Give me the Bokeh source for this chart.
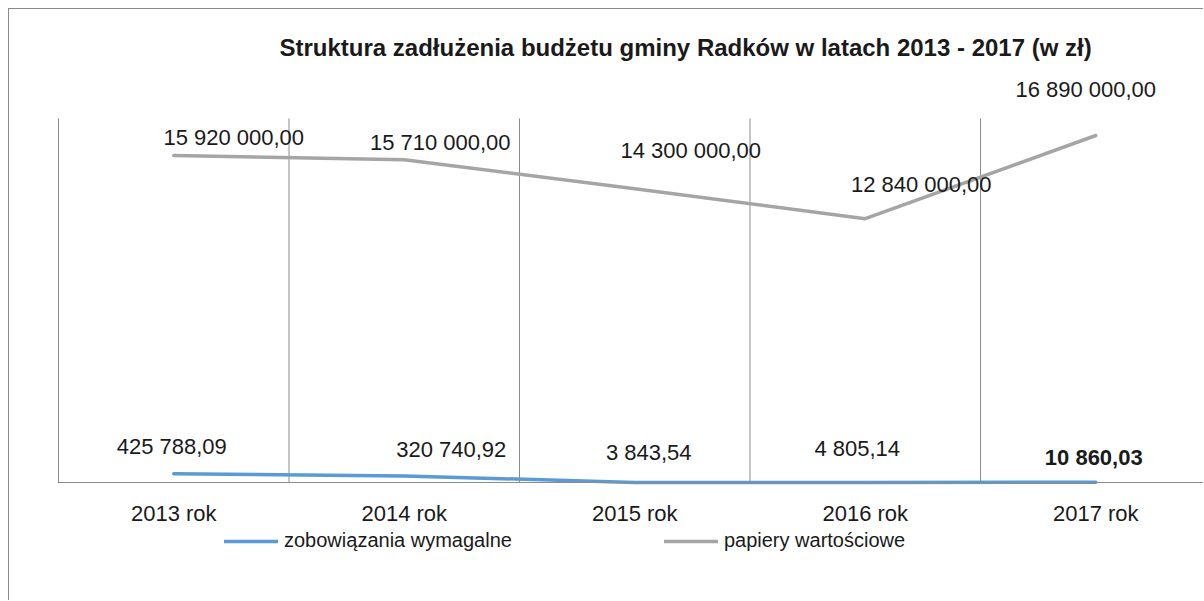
from bokeh.plotting import figure
from bokeh.models import (ColumnDataSource, LabelSet, Legend, LegendItem,
                          FixedTicker, Range1d)
from bokeh.core.properties import value
from bokeh.embed import file_html
from bokeh.resources import INLINE

# ---------------- data ----------------
years = ["2013 rok", "2014 rok", "2015 rok", "2016 rok", "2017 rok"]
zobowiazania = [425788.09, 320740.92, 3843.54, 4805.14, 10860.03]
papiery = [15920000.00, 15710000.00, 14300000.00, 12840000.00, 16890000.00]
series_names = ["zobowiązania wymagalne", "papiery wartościowe"]
title_text = "Struktura zadłużenia budżetu gminy Radków w latach 2013 - 2017 (w zł)"
y_axis_max = 17.72e6

# ---------------- label placement (styles) ----------------
zob_dx = [-2, 47, 14, -8, -2]
zob_dy = [27, 26, 30, 34, 25]
zob_style = ["normal", "normal", "normal", "normal", "bold"]
pap_dx = [60, 36, 56, 56, -10]
pap_dy = [18, 17, 38, 34, 46]

BLUE = "#5B9BD5"
GRAY = "#A5A5A5"
GRID = "#8C8C8C"
TXT = "#1a1a1a"
FONT = "Liberation Sans"

PX_PER_CAT = 230.5
PX_PER_UNIT = 20.545e-6
FRAME_W = 1147
FRAME_H = 532
ZERO_FROM_BOTTOM = 119


def fmt(v):
    return f"{v:,.2f}".replace(",", " ").replace(".", ",")


xs = list(range(len(years)))
x0 = -0.5 - 1 / PX_PER_CAT
y0 = -ZERO_FROM_BOTTOM / PX_PER_UNIT

p = figure(width=1195, height=592, output_backend="svg", toolbar_location=None,
           x_range=Range1d(x0, x0 + FRAME_W / PX_PER_CAT),
           y_range=Range1d(y0, y0 + FRAME_H / PX_PER_UNIT),
           min_border_left=48, min_border_right=0,
           min_border_top=60, min_border_bottom=0)
p.outline_line_color = None
p.styles = {"margin-left": "8px", "margin-top": "8px",
            "border-left": "1px solid #8a8a8a", "border-top": "1px solid #8a8a8a"}

# title
p.title.text = title_text
p.title.text_font = FONT
p.title.text_font_size = "24px"
p.title.text_font_style = "bold"
p.title.text_color = TXT
p.title.align = "left"
p.title.offset = 222
p.title.standoff = 18

# axes
p.yaxis.visible = False
p.ygrid.visible = False
p.xgrid.visible = False
p.xaxis.fixed_location = 0
p.xaxis.ticker = FixedTicker(ticks=xs)
p.xaxis.major_label_overrides = {i: y for i, y in zip(xs, years)}
p.xaxis.major_tick_line_color = None
p.xaxis.minor_tick_line_color = None
p.xaxis.axis_line_color = GRID
p.xaxis.major_label_text_font = FONT
p.xaxis.major_label_text_font_size = "22px"
p.xaxis.major_label_text_color = TXT
p.xaxis.major_label_standoff = 12

# vertical category separators (from the value axis 0 to its maximum)
bounds = [i - 0.5 for i in xs] + [xs[-1] + 0.5]
p.segment(x0=bounds, y0=[0] * len(bounds), x1=bounds,
          y1=[y_axis_max] * len(bounds), line_color=GRID, line_width=1)

src_z = ColumnDataSource(dict(x=xs, y=zobowiazania,
                              label=[fmt(v) for v in zobowiazania],
                              dx=zob_dx, dy=zob_dy, style=zob_style))
src_p = ColumnDataSource(dict(x=xs, y=papiery,
                              label=[fmt(v) for v in papiery],
                              dx=pap_dx, dy=pap_dy))

r_z = p.line("x", "y", source=src_z, line_color=BLUE, line_width=3.5,
             line_cap="round", line_join="round")
r_p = p.line("x", "y", source=src_p, line_color=GRAY, line_width=3.5,
             line_cap="round", line_join="round")

lab_z = LabelSet(x="x", y="y", text="label", source=src_z,
                 x_offset="dx", y_offset="dy", text_align="center",
                 text_baseline="middle", text_font_size="22px",
                 text_color=TXT, text_font_style="style",
                 text_font=value(FONT))
lab_p = LabelSet(x="x", y="y", text="label", source=src_p,
                 x_offset="dx", y_offset="dy", text_align="center",
                 text_baseline="middle", text_font_size="22px",
                 text_color=TXT, text_font=value(FONT))
p.add_layout(lab_z)
p.add_layout(lab_p)

legend = Legend(items=[LegendItem(label=series_names[0], renderers=[r_z]),
                       LegendItem(label=series_names[1], renderers=[r_p])],
                orientation="horizontal", location=(167, 49),
                glyph_width=54, glyph_height=20, label_height=20,
                label_standoff=6, spacing=152, padding=0, margin=0,
                border_line_color=None, background_fill_alpha=0,
                label_text_font=FONT, label_text_font_size="20px",
                label_text_color=TXT)
p.add_layout(legend, "center")

open("out.html", "w").write(file_html(p, INLINE))
